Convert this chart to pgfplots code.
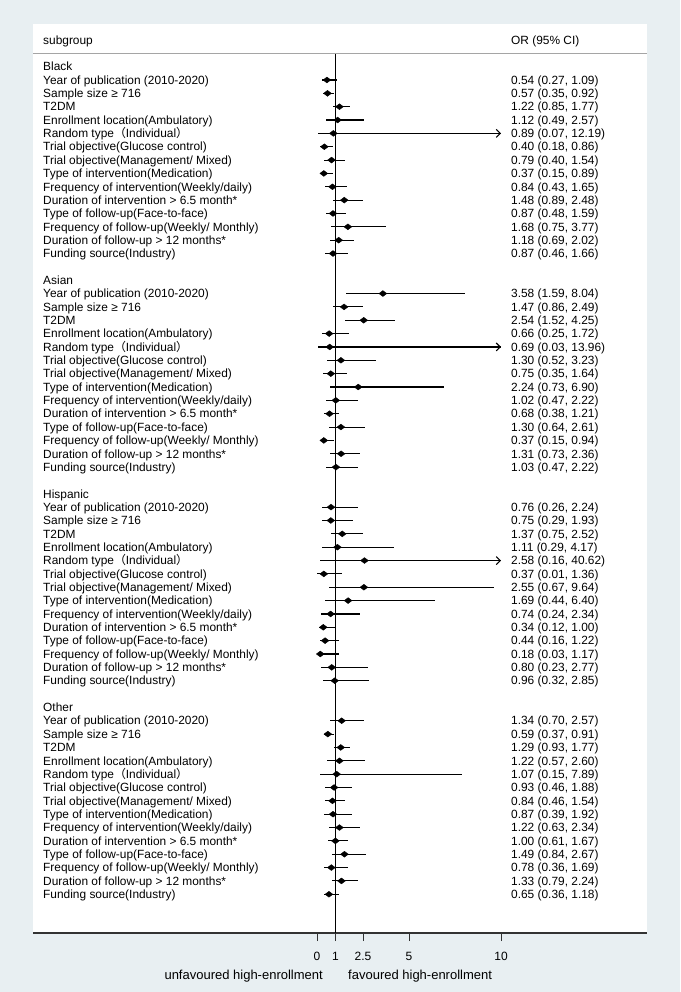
\documentclass[border=0pt]{standalone}
\usepackage{fontspec}
\setmainfont{Liberation Sans}
\newfontfamily\cjk{Noto Sans CJK SC}
\usepackage{pgfplots}
\pgfplotsset{compat=1.18}
\usepackage{pgfplotstable}
\usetikzlibrary{arrows.meta}

\definecolor{bg}{RGB}{232,239,242}
\definecolor{sep}{RGB}{165,165,165}

% i = row in group, or, lower, upper
\pgfplotstableread{
i or lo hi
1 0.54 0.27 1.09
2 0.57 0.35 0.92
3 1.22 0.85 1.77
4 1.12 0.49 2.57
5 0.89 0.07 12.19
6 0.40 0.18 0.86
7 0.79 0.40 1.54
8 0.37 0.15 0.89
9 0.84 0.43 1.65
10 1.48 0.89 2.48
11 0.87 0.48 1.59
12 1.68 0.75 3.77
13 1.18 0.69 2.02
14 0.87 0.46 1.66
}\tblack
\pgfplotstableread{
i or lo hi
1 3.58 1.59 8.04
2 1.47 0.86 2.49
3 2.54 1.52 4.25
4 0.66 0.25 1.72
5 0.69 0.03 13.96
6 1.30 0.52 3.23
7 0.75 0.35 1.64
8 2.24 0.73 6.90
9 1.02 0.47 2.22
10 0.68 0.38 1.21
11 1.30 0.64 2.61
12 0.37 0.15 0.94
13 1.31 0.73 2.36
14 1.03 0.47 2.22
}\tasian
\pgfplotstableread{
i or lo hi
1 0.76 0.26 2.24
2 0.75 0.29 1.93
3 1.37 0.75 2.52
4 1.11 0.29 4.17
5 2.58 0.16 40.62
6 0.37 0.01 1.36
7 2.55 0.67 9.64
8 1.69 0.44 6.40
9 0.74 0.24 2.34
10 0.34 0.12 1.00
11 0.44 0.16 1.22
12 0.18 0.03 1.17
13 0.80 0.23 2.77
14 0.96 0.32 2.85
}\thisp
\pgfplotstableread{
i or lo hi
1 1.34 0.70 2.57
2 0.59 0.37 0.91
3 1.29 0.93 1.77
4 1.22 0.57 2.60
5 1.07 0.15 7.89
6 0.93 0.46 1.88
7 0.84 0.46 1.54
8 0.87 0.39 1.92
9 1.22 0.63 2.34
10 1.00 0.61 1.67
11 1.49 0.84 2.67
12 0.78 0.36 1.69
13 1.33 0.79 2.24
14 0.65 0.36 1.18
}\tother

\newcommand\lbl{\fontsize{11.9}{14}\selectfont}
\tikzset{txt/.style={anchor=west, inner sep=0pt, text height=8.5pt, text depth=0pt, font=\lbl}}

\newcommand\grouplabels[2]{%
  \node[txt] at (axis cs:-14.89,{-(#1)}) {#2};
  \node[txt] at (axis cs:-14.89,{-(#1+1)}) {Year of publication (2010-2020)};
  \node[txt] at (axis cs:-14.89,{-(#1+2)}) {Sample size ≥ 716};
  \node[txt] at (axis cs:-14.89,{-(#1+3)}) {T2DM};
  \node[txt] at (axis cs:-14.89,{-(#1+4)}) {Enrollment location(Ambulatory)};
  \node[txt] at (axis cs:-14.89,{-(#1+5)}) {Random type{\cjk （}Individual{\cjk ）}};
  \node[txt] at (axis cs:-14.89,{-(#1+6)}) {Trial objective(Glucose control)};
  \node[txt] at (axis cs:-14.89,{-(#1+7)}) {Trial objective(Management/ Mixed)};
  \node[txt] at (axis cs:-14.89,{-(#1+8)}) {Type of intervention(Medication)};
  \node[txt] at (axis cs:-14.89,{-(#1+9)}) {Frequency of intervention(Weekly/daily)};
  \node[txt] at (axis cs:-14.89,{-(#1+10)}) {Duration of intervention > 6.5 month*};
  \node[txt] at (axis cs:-14.89,{-(#1+11)}) {Type of follow-up(Face-to-face)};
  \node[txt] at (axis cs:-14.89,{-(#1+12)}) {Frequency of follow-up(Weekly/ Monthly)};
  \node[txt] at (axis cs:-14.89,{-(#1+13)}) {Duration of follow-up > 12 months*};
  \node[txt] at (axis cs:-14.89,{-(#1+14)}) {Funding source(Industry)};
}
\newcommand\ortxt[2]{\node[txt] at (axis cs:10.543,{-(#1)}) {#2};}

\newcommand\forest[2]{%
  \addplot[only marks, mark=diamond*, mark size=3.9pt,
    mark options={rotate=90, black, fill=black},
    error bars/.cd, x dir=both, x explicit, error mark=none,
    error bar style={black, line width=1.1pt}]
    table[x=or, y expr={-\thisrow{i}-#2},
      x error plus expr={min(\thisrow{hi},10)-\thisrow{or}},
      x error minus expr={\thisrow{or}-\thisrow{lo}}] {#1};
}

\begin{document}
\begin{tikzpicture}
\fill[bg] (0,0) rectangle (680pt,992pt);
\begin{axis}[
  at={(33pt,59pt)}, anchor=south west,
  scale only axis, width=614pt, height=879pt,
  xmin=-15.435, xmax=17.935, ymin=-64.9, ymax=0.948,
  axis x line*=bottom, axis y line=none,
  axis line style={line width=1.5pt, black!80},
  axis background/.style={fill=white},
  clip=false,
  xtick={0,1,2.5,5,10},
  tick align=outside, major tick length=8pt,
  tick style={black!80, line width=1pt},
  /pgf/number format/assume math mode=true,
  x tick label style={font=\fontsize{12}{14}\selectfont, yshift=-8pt},
]
% header box
\fill[white] (axis cs:-15.435,0.948) rectangle (axis cs:17.935,3.195);
\draw[sep, line width=1pt] (axis cs:-15.435,0.948) -- (axis cs:17.935,0.948);
\node[txt] at (axis cs:-14.89,2.0) {subgroup};
\node[txt] at (axis cs:10.543,2.0) {OR (95\% CI)};

% null line
\addplot[black, line width=1.1pt] coordinates {(1,0.948) (1,-64.9)};

\forest{\tblack}{0}
\forest{\tasian}{16}
\forest{\thisp}{32}
\forest{\tother}{48}

% truncated intervals (upper limit beyond 10)
\addplot[black, line width=1.1pt, -{Straight Barb[length=4pt,width=8pt]}] coordinates {(0.89,-5) (10,-5)};
\addplot[black, line width=1.1pt, -{Straight Barb[length=4pt,width=8pt]}] coordinates {(0.69,-21) (10,-21)};
\addplot[black, line width=1.1pt, -{Straight Barb[length=4pt,width=8pt]}] coordinates {(2.58,-37) (10,-37)};

\grouplabels{0}{Black}
\grouplabels{16}{Asian}
\grouplabels{32}{Hispanic}
\grouplabels{48}{Other}

\ortxt{1}{0.54 (0.27, 1.09)}
\ortxt{2}{0.57 (0.35, 0.92)}
\ortxt{3}{1.22 (0.85, 1.77)}
\ortxt{4}{1.12 (0.49, 2.57)}
\ortxt{5}{0.89 (0.07, 12.19)}
\ortxt{6}{0.40 (0.18, 0.86)}
\ortxt{7}{0.79 (0.40, 1.54)}
\ortxt{8}{0.37 (0.15, 0.89)}
\ortxt{9}{0.84 (0.43, 1.65)}
\ortxt{10}{1.48 (0.89, 2.48)}
\ortxt{11}{0.87 (0.48, 1.59)}
\ortxt{12}{1.68 (0.75, 3.77)}
\ortxt{13}{1.18 (0.69, 2.02)}
\ortxt{14}{0.87 (0.46, 1.66)}

\ortxt{17}{3.58 (1.59, 8.04)}
\ortxt{18}{1.47 (0.86, 2.49)}
\ortxt{19}{2.54 (1.52, 4.25)}
\ortxt{20}{0.66 (0.25, 1.72)}
\ortxt{21}{0.69 (0.03, 13.96)}
\ortxt{22}{1.30 (0.52, 3.23)}
\ortxt{23}{0.75 (0.35, 1.64)}
\ortxt{24}{2.24 (0.73, 6.90)}
\ortxt{25}{1.02 (0.47, 2.22)}
\ortxt{26}{0.68 (0.38, 1.21)}
\ortxt{27}{1.30 (0.64, 2.61)}
\ortxt{28}{0.37 (0.15, 0.94)}
\ortxt{29}{1.31 (0.73, 2.36)}
\ortxt{30}{1.03 (0.47, 2.22)}

\ortxt{33}{0.76 (0.26, 2.24)}
\ortxt{34}{0.75 (0.29, 1.93)}
\ortxt{35}{1.37 (0.75, 2.52)}
\ortxt{36}{1.11 (0.29, 4.17)}
\ortxt{37}{2.58 (0.16, 40.62)}
\ortxt{38}{0.37 (0.01, 1.36)}
\ortxt{39}{2.55 (0.67, 9.64)}
\ortxt{40}{1.69 (0.44, 6.40)}
\ortxt{41}{0.74 (0.24, 2.34)}
\ortxt{42}{0.34 (0.12, 1.00)}
\ortxt{43}{0.44 (0.16, 1.22)}
\ortxt{44}{0.18 (0.03, 1.17)}
\ortxt{45}{0.80 (0.23, 2.77)}
\ortxt{46}{0.96 (0.32, 2.85)}

\ortxt{49}{1.34 (0.70, 2.57)}
\ortxt{50}{0.59 (0.37, 0.91)}
\ortxt{51}{1.29 (0.93, 1.77)}
\ortxt{52}{1.22 (0.57, 2.60)}
\ortxt{53}{1.07 (0.15, 7.89)}
\ortxt{54}{0.93 (0.46, 1.88)}
\ortxt{55}{0.84 (0.46, 1.54)}
\ortxt{56}{0.87 (0.39, 1.92)}
\ortxt{57}{1.22 (0.63, 2.34)}
\ortxt{58}{1.00 (0.61, 1.67)}
\ortxt{59}{1.49 (0.84, 2.67)}
\ortxt{60}{0.78 (0.36, 1.69)}
\ortxt{61}{1.33 (0.79, 2.24)}
\ortxt{62}{0.65 (0.36, 1.18)}

% direction labels under the axis
\node[anchor=east, inner sep=0pt, text height=9pt, text depth=0pt, font=\fontsize{13}{15}\selectfont] at (axis cs:0.326,-68.04) {unfavoured high-enrollment};
\node[anchor=west, inner sep=0pt, text height=9pt, text depth=0pt, font=\fontsize{13}{15}\selectfont] at (axis cs:1.685,-68.04) {favoured high-enrollment};
\end{axis}
\end{tikzpicture}
\end{document}
